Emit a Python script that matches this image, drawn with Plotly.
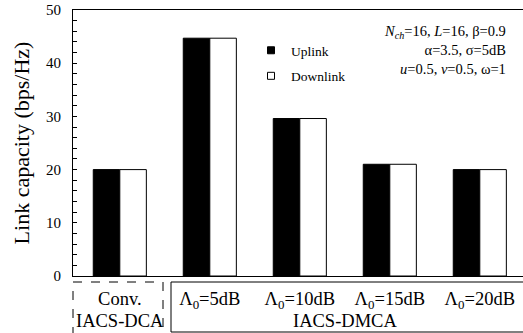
import plotly.graph_objects as go

categories = ["conv", "5dB", "10dB", "15dB", "20dB"]
tick_labels = ["Conv.", "Λ<sub>0</sub>=5dB", "Λ<sub>0</sub>=10dB",
               "Λ<sub>0</sub>=15dB", "Λ<sub>0</sub>=20dB"]
group_labels = ["IACS-DCA", "IACS-DMCA"]
uplink = [20.0, 44.7, 29.6, 21.0, 20.0]
downlink = [20.0, 44.7, 29.6, 21.0, 20.0]

FONT = "Liberation Serif"
W, H = 523, 333
L, R, T, B = 73, 0, 10, 57
pw, ph = W - L - R, H - T - B

def px_x(p):
    return (p - L) / pw

def px_y(p):
    return (H - B - p) / ph

fig = go.Figure()
fig.add_trace(go.Bar(x=categories, y=uplink, name="Uplink",
                     marker=dict(color="black", line=dict(color="black", width=1)),
                     showlegend=False))
fig.add_trace(go.Bar(x=categories, y=downlink, name="Downlink",
                     marker=dict(color="white", line=dict(color="black", width=1)),
                     showlegend=False))
# legend entries
fig.add_trace(go.Scatter(x=[None], y=[None], mode="markers", name="Uplink",
                         legendgroup="u",
                         marker=dict(symbol="square", size=7, color="black",
                                     line=dict(color="black", width=1))))
fig.add_trace(go.Scatter(x=[None], y=[None], mode="markers", name="Downlink",
                         legendgroup="d",
                         marker=dict(symbol="square", size=7, color="white",
                                     line=dict(color="black", width=1))))

fig.update_layout(
    width=W, height=H,
    margin=dict(l=L, r=R, t=T, b=B, pad=0, autoexpand=False),
    paper_bgcolor="white", plot_bgcolor="white",
    font=dict(family=FONT, color="black", size=14),
    barmode="group", bargap=0.41, bargroupgap=0,
    legend=dict(x=px_x(251), y=px_y(35), xanchor="left", yanchor="top",
                bgcolor="rgba(0,0,0,0)", font=dict(size=13.5, family=FONT, color="black"),
                tracegroupgap=5, itemwidth=30),
    xaxis=dict(range=[-0.52, 4.48], tickmode="array", tickvals=categories,
               ticktext=tick_labels, showline=True, linecolor="black", linewidth=1,
               mirror=True, ticks="", showgrid=False, zeroline=False, automargin=False,
               tickfont=dict(size=18.5, family=FONT, color="black"), ticklabelstandoff=6),
    yaxis=dict(range=[0, 50], dtick=10, ticks="inside", ticklen=4, tickwidth=1,
               tickcolor="black", showline=True, linecolor="black", linewidth=1,
               showgrid=False, zeroline=False, automargin=False,
               minor=dict(dtick=2, ticks="inside", ticklen=4, tickcolor="black", tickwidth=1),
               tickfont=dict(size=15, family=FONT, color="black"), ticklabelstandoff=8,
               title=dict(text="Link capacity (bps/Hz)",
                          font=dict(size=22, family=FONT, color="black"),
                          standoff=10)),
)

fig.add_annotation(
    xref="paper", yref="paper", x=px_x(508), y=px_y(21), xanchor="right", yanchor="top",
    align="right", showarrow=False, font=dict(size=14.5, family=FONT, color="black"),
    text="<i>N</i><sub><i>ch</i></sub>=16, <i>L</i>=16, β=0.9<br>α=3.5, σ=5dB<br>"
         "<i>u</i>=0.5, <i>v</i>=0.5, ω=1",
)
fig.add_annotation(
    xref="x", yref="paper", x=0, y=px_y(321), yanchor="middle",
    showarrow=False, font=dict(size=18.5, family=FONT, color="black"), text=group_labels[0],
)
fig.add_annotation(
    xref="x", yref="paper", x=2.5, y=px_y(321), yanchor="middle",
    showarrow=False, font=dict(size=18.5, family=FONT, color="black"), text=group_labels[1],
)
# category boxes
fig.add_shape(type="rect", xref="paper", yref="paper",
              x0=px_x(73), x1=px_x(163), y0=px_y(282), y1=px_y(345),
              line=dict(color="black", width=1, dash="dash"))
fig.add_shape(type="rect", xref="paper", yref="paper",
              x0=px_x(171), x1=px_x(540), y0=px_y(282), y1=px_y(332),
              line=dict(color="black", width=1))

fig.write_html("out.html", config={"displayModeBar": False},
               post_script="document.body.style.margin='0';document.body.style.overflow='hidden';")
